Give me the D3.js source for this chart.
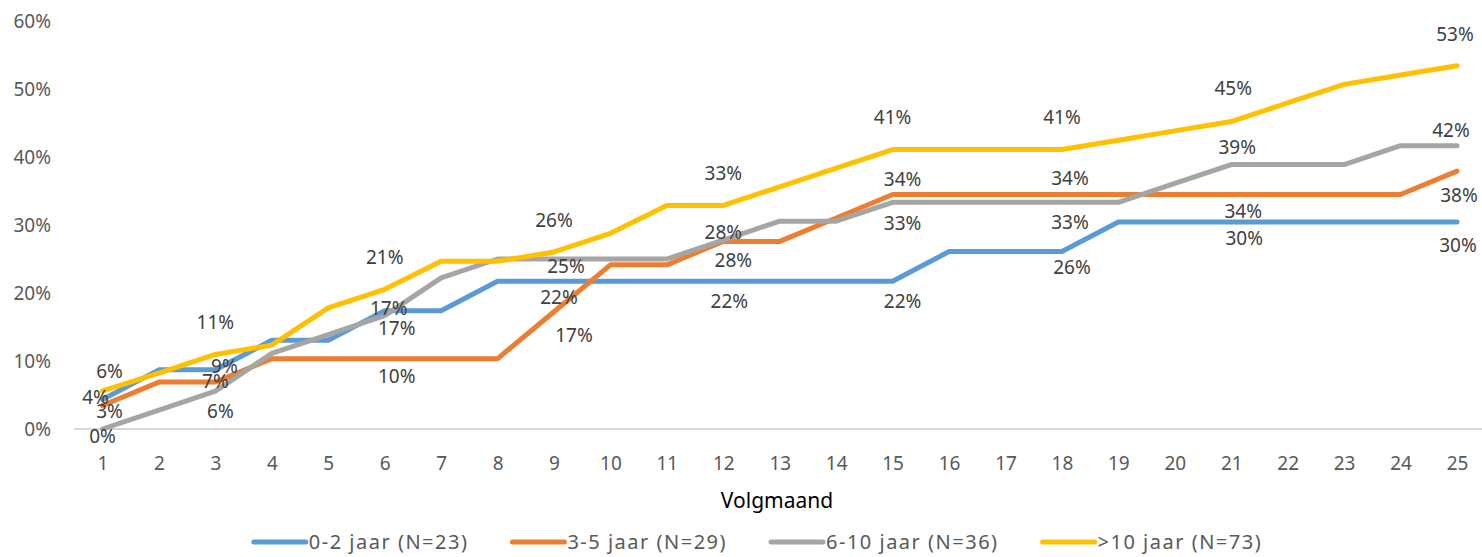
<!DOCTYPE html>
<html>
<head>
<meta charset="utf-8">
<script src="https://cdn.jsdelivr.net/npm/d3@7/dist/d3.min.js"></script>
<style>
    body { margin: 0; background: #fff; }
    text { font-family: "Noto Sans", sans-serif; }
</style>
</head>
<body>
<div id="chart"></div>
<script>
const months = ['1','2','3','4','5','6','7','8','9','10','11','12','13','14','15','16','17','18','19','20','21','22','23','24','25'];
const yTicks = [0, 0.1, 0.2, 0.3, 0.4, 0.5, 0.6];

const seriesNames = ['0-2 jaar (N=23)', '3-5 jaar (N=29)', '6-10 jaar (N=36)', '>10 jaar (N=73)'];
const jaar0_2  = [0.0435, 0.087, 0.087, 0.1304, 0.1304, 0.1739, 0.1739, 0.2174, 0.2174, 0.2174, 0.2174, 0.2174, 0.2174, 0.2174, 0.2174, 0.2609, 0.2609, 0.2609, 0.3043, 0.3043, 0.3043, 0.3043, 0.3043, 0.3043, 0.3043];
const jaar3_5  = [0.0345, 0.069, 0.069, 0.1034, 0.1034, 0.1034, 0.1034, 0.1034, 0.1724, 0.2414, 0.2414, 0.2759, 0.2759, 0.3103, 0.3448, 0.3448, 0.3448, 0.3448, 0.3448, 0.3448, 0.3448, 0.3448, 0.3448, 0.3448, 0.3793];
const jaar6_10 = [0, 0.0278, 0.0556, 0.1111, 0.1389, 0.1667, 0.2222, 0.25, 0.25, 0.25, 0.25, 0.2778, 0.3056, 0.3056, 0.3333, 0.3333, 0.3333, 0.3333, 0.3333, 0.3611, 0.3889, 0.3889, 0.3889, 0.4167, 0.4167];
const jaar10p  = [0.056, 0.0822, 0.1096, 0.1233, 0.1781, 0.2055, 0.2466, 0.2466, 0.2603, 0.2877, 0.3288, 0.3288, 0.3562, 0.3836, 0.411, 0.411, 0.411, 0.411, 0.4247, 0.4384, 0.4521, 0.4795, 0.5068, 0.5205, 0.5342];
const labelMonths = ['1', '3', '6', '9', '12', '15', '18', '21', '25'];

const series = [jaar0_2, jaar3_5, jaar6_10, jaar10p];
const colors = ['#5B9BD5', '#ED7D31', '#A5A5A5', '#FFC000'];

// hand placed label offsets (dx, dy) per series, same order as labelMonths
const labelOffsets = [
    [[-7, -2], [9, -3], [4, -2], [5, 16], [6, 20], [10, 20], [10, 16], [13, 16], [1, 23]],
    [[7, 6], [0, -1], [12, 18], [20, 24], [10, 19], [10, -15], [8, -16], [12, 17], [2, 24]],
    [[0, 7], [5, 20], [12, 13], [12, 7], [0, -8], [10, 21], [8, 20], [6, -17], [-6, -15]],
    [[7, -20], [0, -32], [0, -32], [0, -32], [0, -32], [0, -32], [0, -32], [2, -33], [-2, -31]]
];

const width = 1482, height = 557;
const fmt = d3.format('.0%');

const svg = d3.select('#chart').append('svg')
    .attr('width', width)
    .attr('height', height);

const x = d3.scalePoint()
    .domain(months)
    .range([102.5, 1457]);

const y = d3.scaleLinear()
    .domain([0, 0.6])
    .range([429, 21]);

// y axis labels
const yAxis = svg.append('g')
    .attr('transform', 'translate(74,0)')
    .call(d3.axisLeft(y).tickValues(yTicks).tickFormat(fmt).tickSize(0).tickPadding(23));
yAxis.select('.domain').remove();
yAxis.selectAll('text')
    .attr('fill', '#595959')
    .style('font-size', '19px')
    .style('font-family', '"Noto Sans", sans-serif');

// baseline
svg.append('line')
    .attr('x1', 74).attr('x2', width)
    .attr('y1', y(0)).attr('y2', y(0))
    .attr('stroke', '#d9d9d9')
    .attr('stroke-width', 2);

// x axis labels
const xAxis = svg.append('g')
    .attr('transform', `translate(0,${y(0)})`)
    .call(d3.axisBottom(x).tickSize(0));
xAxis.select('.domain').remove();
xAxis.selectAll('text')
    .attr('y', 34)
    .attr('dy', '0.35em')
    .attr('fill', '#595959')
    .style('font-size', '19px')
    .style('font-family', '"Noto Sans", sans-serif');

svg.append('text')
    .attr('x', 777)
    .attr('y', 501)
    .attr('dy', '0.35em')
    .attr('text-anchor', 'middle')
    .attr('fill', '#000')
    .style('font-size', '21px')
    .text('Volgmaand');

const line = d3.line()
    .x((d, i) => x(months[i]))
    .y(d => y(d));

series.forEach((values, s) => {
    svg.append('path')
        .datum(values)
        .attr('fill', 'none')
        .attr('stroke', colors[s])
        .attr('stroke-width', 5)
        .attr('stroke-linecap', 'round')
        .attr('stroke-linejoin', 'round')
        .attr('d', line);
});

// data labels on top of all lines
series.forEach((values, s) => {
    svg.append('g').selectAll('text')
        .data(labelMonths)
        .join('text')
        .attr('x', (m, j) => x(m) + labelOffsets[s][j][0])
        .attr('y', (m, j) => y(values[months.indexOf(m)]) + labelOffsets[s][j][1])
        .attr('dy', '0.35em')
        .attr('text-anchor', 'middle')
        .attr('fill', '#404040')
        .style('font-size', '19px')
        .text(m => fmt(values[months.indexOf(m)]));
});

// legend
const legend = svg.append('g').attr('transform', 'translate(0,542)');
let cursor = 0;
seriesNames.forEach((name, s) => {
    const g = legend.append('g');
    g.append('line')
        .attr('x1', 2).attr('x2', 54)
        .attr('stroke', colors[s])
        .attr('stroke-width', 5)
        .attr('stroke-linecap', 'round');
    const t = g.append('text')
        .attr('x', 57)
        .attr('dy', '0.35em')
        .attr('fill', '#595959')
        .style('font-size', '20px')
        .style('letter-spacing', '1.5px')
        .text(name);
    const w = 57 + t.node().getComputedTextLength();
    g.attr('transform', `translate(${cursor},0)`);
    cursor += w + 42;
});
const total = cursor - 42;
legend.attr('transform', `translate(${757 - total / 2},542)`);
</script>
</body>
</html>
